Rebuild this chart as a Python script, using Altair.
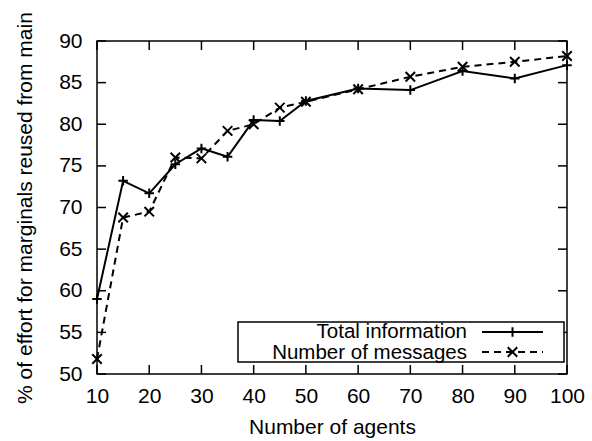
import altair as alt
import pandas as pd

agents = [10, 15, 20, 25, 30, 35, 40, 45, 50, 60, 70, 80, 90, 100]
total_info = [59.0, 73.2, 71.7, 75.2, 77.1, 76.1, 80.5, 80.4, 82.8, 84.3, 84.1, 86.4, 85.5, 87.1]
num_msgs = [51.8, 68.8, 69.5, 76.0, 75.9, 79.2, 80.0, 82.0, 82.7, 84.2, 85.7, 86.9, 87.5, 88.2]
x_ticks = list(range(10, 101, 10))
y_ticks = list(range(50, 91, 5))
series_names = ["Total information", "Number of messages"]

W, H = 470, 333
FONT = "Liberation Sans"
FS = 21
LFS = 20.5
LW = 2
PLUS = "M-1,0L1,0M0,-1L0,1"
CROSS = "M-1,-1L1,1M-1,1L1,-1"

df_a = pd.DataFrame({"agents": agents, "v": total_info})
df_b = pd.DataFrame({"agents": agents, "v": num_msgs})
df_xt = pd.DataFrame({"t": x_ticks})
df_yt = pd.DataFrame({"t": y_ticks})

xscale = alt.Scale(domain=[10, 100], nice=False, zero=False)
yscale = alt.Scale(domain=[50, 90], nice=False, zero=False)

xaxis = alt.Axis(values=x_ticks, ticks=False, domain=False, grid=False,
                 labelFontSize=FS, labelFont=FONT, labelPadding=11, labelFlush=False,
                 labelColor="black", title="Number of agents", titleFont=FONT,
                 titleFontSize=FS, titleFontWeight="normal", titleColor="black",
                 titleY=59, titleBaseline="alphabetic")
yaxis = alt.Axis(values=y_ticks, ticks=False, domain=False, grid=False,
                 labelFontSize=FS, labelFont=FONT, labelPadding=15, labelFlush=False,
                 labelColor="black", title="% of effort for marginals reused from main",
                 titleFont=FONT, titleFontSize=FS, titleFontWeight="normal",
                 titleColor="black", titleX=-66, titleY=H / 2, titleBaseline="alphabetic")

line_a = alt.Chart(df_a).mark_line(color="black", strokeWidth=LW).encode(
    x=alt.X("agents:Q", scale=xscale, axis=xaxis),
    y=alt.Y("v:Q", scale=yscale, axis=yaxis),
)
pts_a = alt.Chart(df_a).mark_point(shape=PLUS, size=90, filled=False, color="black",
                                   strokeWidth=LW, opacity=1).encode(
    x=alt.X("agents:Q", scale=xscale), y=alt.Y("v:Q", scale=yscale))
line_b = alt.Chart(df_b).mark_line(color="black", strokeWidth=LW, strokeDash=[7, 5]).encode(
    x=alt.X("agents:Q", scale=xscale), y=alt.Y("v:Q", scale=yscale))
pts_b = alt.Chart(df_b).mark_point(shape=CROSS, size=90, filled=False, color="black",
                                   strokeWidth=LW, opacity=1).encode(
    x=alt.X("agents:Q", scale=xscale), y=alt.Y("v:Q", scale=yscale))

TL = 9
tick_bot = alt.Chart(df_xt).mark_rule(color="black", strokeWidth=1.5).encode(
    x=alt.X("t:Q", scale=xscale), y=alt.value(H), y2=alt.value(H - TL))
tick_top = alt.Chart(df_xt).mark_rule(color="black", strokeWidth=1.5).encode(
    x=alt.X("t:Q", scale=xscale), y=alt.value(0), y2=alt.value(TL))
tick_left = alt.Chart(df_yt).mark_rule(color="black", strokeWidth=1.5).encode(
    y=alt.Y("t:Q", scale=yscale), x=alt.value(0), x2=alt.value(TL))
tick_right = alt.Chart(df_yt).mark_rule(color="black", strokeWidth=1.5).encode(
    y=alt.Y("t:Q", scale=yscale), x=alt.value(W), x2=alt.value(W - TL))

# legend (gnuplot style: label, then sample line with marker)
df_one = pd.DataFrame({"k": [0]})
leg_box = alt.Chart(df_one).mark_rect(fill="white", stroke="black", strokeWidth=1.5).encode(
    x=alt.value(141), x2=alt.value(467), y=alt.value(281), y2=alt.value(321))
df_lab = pd.DataFrame({"name": series_names, "row": [0, 1]})
leg_text1 = alt.Chart(df_lab.iloc[[0]]).mark_text(
    align="right", baseline="alphabetic", font=FONT, fontSize=LFS, color="black").encode(
    x=alt.value(370), y=alt.value(297), text="name:N")
leg_text2 = alt.Chart(df_lab.iloc[[1]]).mark_text(
    align="right", baseline="alphabetic", font=FONT, fontSize=LFS, color="black").encode(
    x=alt.value(370), y=alt.value(318), text="name:N")
leg_l1 = alt.Chart(df_one).mark_rule(color="black", strokeWidth=LW).encode(
    x=alt.value(385), x2=alt.value(446), y=alt.value(291))
leg_l2 = alt.Chart(df_one).mark_rule(color="black", strokeWidth=LW, strokeDash=[7, 5]).encode(
    x=alt.value(385), x2=alt.value(446), y=alt.value(311))
leg_p1 = alt.Chart(df_one).mark_point(shape=PLUS, size=90, filled=False, color="black",
                                      strokeWidth=LW, opacity=1).encode(
    x=alt.value(415.5), y=alt.value(291))
leg_p2 = alt.Chart(df_one).mark_point(shape=CROSS, size=90, filled=False, color="black",
                                      strokeWidth=LW, opacity=1).encode(
    x=alt.value(415.5), y=alt.value(311))

chart = alt.layer(
    line_a, line_b, pts_a, pts_b,
    tick_bot, tick_top, tick_left, tick_right,
    leg_box, leg_text1, leg_text2, leg_l1, leg_l2, leg_p1, leg_p2,
).properties(
    width=W, height=H,
    autosize=alt.AutoSizeParams(type="none"),
    padding={"left": 97, "top": 41, "right": 25, "bottom": 67},
    background="white",
).configure_view(stroke="black", strokeWidth=1.5)

chart.save("out.html", embed_options={"renderer": "svg", "actions": False})
